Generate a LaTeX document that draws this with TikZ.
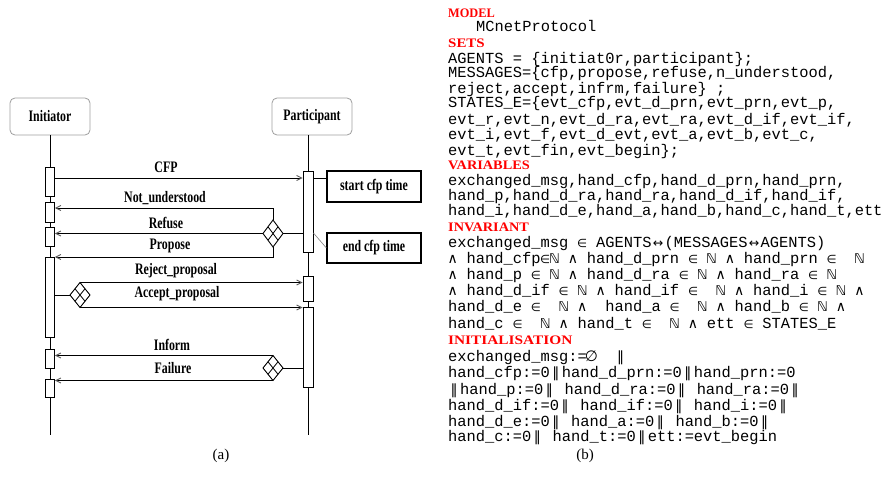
\documentclass[tikz,border=0pt]{standalone}
\usepackage{fontspec}
\setmainfont{Liberation Serif}
\newfontfamily\diagfont[FakeStretch=0.74]{Liberation Serif}
\newfontfamily\monofont{Liberation Mono}
\newfontfamily\symfont{DejaVu Sans}
\usetikzlibrary{arrows.meta,shapes.geometric,calc}

\newcommand\cellbox[2]{\makebox[9.24pt]{\symfont\fontsize{#1}{#1}\selectfont #2}}
\newcommand\symEl{\cellbox{11.5}{∈}}
\newcommand\symNat{\cellbox{13.5}{ℕ}}
\newcommand\symAnd{\cellbox{14}{∧}}
\newcommand\symLr{\makebox[13pt]{\symfont\fontsize{12.5}{12.5}\selectfont ↔}}
\newcommand\symEmpty{\cellbox{15}{∅}}
\newcommand\symPar{\makebox[12pt]{\symfont\fontsize{14}{14}\selectfont ‖}}
\newcommand\hd[2]{\scalebox{#1}[1]{#2}}

\tikzset{
  lifebox/.style={draw=gray!75, rounded corners=5pt, line width=0.8pt, fill=white,
    minimum width=80pt, minimum height=37pt, inner sep=0pt,
    font=\diagfont\bfseries\fontsize{16}{16}\selectfont},
  act/.style={draw, fill=white, line width=0.9pt, minimum width=9pt, inner sep=0pt},
  notebox/.style={draw, line width=1.2pt, minimum width=94pt, inner sep=0pt,
    font=\diagfont\bfseries\fontsize{16}{16}\selectfont},
  msg/.style={line width=0.9pt, -{Straight Barb[length=5pt,width=5pt,color=gray!70!black]}},
  plain/.style={line width=0.9pt},
  lifeline/.style={line width=0.9pt},
  lbl/.style={inner sep=0pt, font=\diagfont\bfseries\fontsize{16}{16}\selectfont},
  choice/.style={diamond, draw, line width=0.9pt, fill=white, minimum width=20pt,
    minimum height=25pt, inner sep=0pt, outer sep=0pt},
  txt/.style={anchor=base west, inner sep=0pt, font=\monofont\fontsize{15.4}{15.4}\selectfont},
  hdr/.style={anchor=base west, inner sep=0pt, text=red,
    font=\fontsize{13}{13}\selectfont\bfseries},
  capt/.style={inner sep=0pt, font=\fontsize{15}{15}\selectfont}
}

\begin{document}
\begin{tikzpicture}[x=1pt,y=-1pt]
\useasboundingbox (0,0) rectangle (887,495);
\clip (0,0) rectangle (887,495);

% ---------- (a) sequence diagram ----------
\node[lifebox] (ini) at (50,116.5) {Initiator};
\node[lifebox] (par) at (312,116.5) {Participant};
\coordinate (endI) at (50,435);
\coordinate (endP) at (308,435);

\draw[lifeline] (ini.south) -- (endI);
\draw[lifeline] (par.south -| endP) -- (endP);

% activations initiator
\node[act, minimum height=29pt] (a1) at (50,181.5) {};
\node[act, minimum height=20pt] (a2) at (50,212) {};
\node[act, minimum height=19pt] (a3) at (50,236.5) {};
\node[act, minimum height=80pt] (a4) at (50,297) {};
\node[act, minimum height=19pt] (a5) at (50,358.5) {};
\node[act, minimum height=18pt] (a6) at (50,388) {};
% activations participant
\node[act, minimum width=10pt, minimum height=81pt] (p1) at (308,211.5) {};
\node[act, minimum width=10pt, minimum height=25pt] (p2) at (308,288.5) {};
\node[act, minimum width=10pt, minimum height=80pt] (p3) at (308,347) {};

% notes
\node[notebox, minimum height=31pt] (n1) at (374,186.5) {start cfp time};
\node[notebox, minimum height=30pt] (n2) at (374,248) {end cfp time};
\draw[plain] (p1.east |- 0,178) -- (n1.west |- 0,178);
\draw[gray, line width=0.6pt] (p1.east |- 0,233) -- (n2.west);

% choice diamonds
\node[choice, minimum height=27pt] (d1) at (273,233.5) {};
\node[choice] (d2) at (80,295) {};
\node[choice] (d3) at (273,368) {};
\foreach \d in {d1,d2,d3}{
  \draw[line width=0.8pt] ($(\d.north)!.5!(\d.west)$) -- ($(\d.south)!.5!(\d.east)$);
  \draw[line width=0.8pt] ($(\d.north)!.5!(\d.east)$) -- ($(\d.south)!.5!(\d.west)$);
}

% messages
\draw[msg] (a1.east |- 0,178) -- (p1.west |- 0,178);
\draw[msg] (d1.north) |- (a2.east |- 0,208);
\draw[msg] (d1.west) -- (a3.east |- d1.west);
\draw[msg] (d1.south) |- (a4.east |- 0,257);
\draw[plain] (d1.east) -- (p1.west |- d1.east);

\draw[plain] (a4.east |- d2.west) -- (d2.west);
\draw[msg] (d2.north) -- (p2.west |- d2.north);
\draw[msg] (d2.south) -- (p3.west |- d2.south);

\draw[plain] (p3.west |- d3.east) -- (d3.east);
\draw[msg] (d3.north) -- (a5.east |- d3.north);
\draw[msg] (d3.south) -- (a6.east |- d3.south);

% labels
\node[lbl] (lcfp) at (166,167) {CFP};
\node[lbl] (lnu) at (165,198) {Not\_understood};
\node[lbl] (lref) at (166,223) {Refuse};
\node[lbl] (lpro) at (170,246) {Propose};
\node[lbl] (lrej) at (176,271) {Reject\_proposal};
\node[lbl] (lacc) at (177,294) {Accept\_proposal};
\node[lbl] (linf) at (172,345) {Inform};
\node[lbl] (lfai) at (173,368) {Failure};

% ---------- (b) B model text ----------
\node[hdr] (h0) at (448,17.5) {\hd{0.95}{MODEL}};
\node[txt] (t1) at (476,31.5) {MCnetProtocol};
\node[hdr] (h2) at (448,47.5) {\hd{1.15}{SETS}};
\node[txt] (t3) at (448,63.5) {AGENTS = \{initiat0r,participant\};};
\node[txt] (t4) at (448,77.5) {MESSAGES=\{cfp,propose,refuse,n\_understood,};
\node[txt] (t5) at (448,93.5) {reject,accept,infrm,failure\} ;};
\node[txt] (t6) at (448,107.5) {STATES\_E=\{evt\_cfp,evt\_d\_prn,evt\_prn,evt\_p,};
\node[txt] (t7) at (448,124.5) {evt\_r,evt\_n,evt\_d\_ra,evt\_ra,evt\_d\_if,evt\_if,};
\node[txt] (t8) at (448,139.5) {evt\_i,evt\_f,evt\_d\_evt,evt\_a,evt\_b,evt\_c,};
\node[txt] (t9) at (448,155.5) {evt\_t,evt\_fin,evt\_begin\};};
\node[hdr] (h10) at (448,169.5) {\hd{1.1}{VARIABLES}};
\node[txt] (t11) at (448,185.5) {exchanged\_msg,hand\_cfp,hand\_d\_prn,hand\_prn,};
\node[txt] (t12) at (448,200.5) {hand\_p,hand\_d\_ra,hand\_ra,hand\_d\_if,hand\_if,};
\node[txt] (t13) at (448,215.5) {hand\_i,hand\_d\_e,hand\_a,hand\_b,hand\_c,hand\_t,ett};
\node[hdr] (h14) at (448,231.5) {\hd{1.1}{INVARIANT}};
\node[txt] (t15) at (448,247.5) {exchanged\_msg \symEl{} AGENTS\symLr(MESSAGES\symLr AGENTS)};
\node[txt] (t16) at (448,263.5) {\symAnd{} hand\_cfp\symEl\symNat{} \symAnd{} hand\_d\_prn \symEl{} \symNat{} \symAnd{} hand\_prn \symEl\ \ \symNat};
\node[txt] (t17) at (448,279.5) {\symAnd{} hand\_p \symEl{} \symNat{} \symAnd{} hand\_d\_ra \symEl{} \symNat{} \symAnd{} hand\_ra \symEl{} \symNat};
\node[txt] (t18) at (448,295.5) {\symAnd{} hand\_d\_if \symEl{} \symNat{} \symAnd{} hand\_if \symEl\ \ \symNat{} \symAnd{} hand\_i \symEl{} \symNat{} \symAnd};
\node[txt] (t19) at (448,311.5) {hand\_d\_e \symEl\ \ \symNat{} \symAnd\ \ hand\_a \symEl\ \ \symNat{} \symAnd{} hand\_b \symEl{} \symNat{} \symAnd};
\node[txt] (t20) at (448,328.5) {hand\_c \symEl\ \ \symNat{} \symAnd{} hand\_t \symEl\ \ \symNat{} \symAnd{} ett \symEl{} STATES\_E};
\node[hdr] (h21) at (448,344.5) {\hd{1.18}{INITIALISATION}};
\node[txt] (t22) at (448,361.5) {exchanged\_msg:=\symEmpty\ \ \symPar};
\node[txt] (t23) at (448,377.5) {hand\_cfp:=0\symPar hand\_d\_prn:=0\symPar hand\_prn:=0};
\node[txt] (t24) at (448,394.5) {\symPar hand\_p:=0\symPar\ hand\_d\_ra:=0\symPar\ hand\_ra:=0\symPar};
\node[txt] (t25) at (448,410.5) {hand\_d\_if:=0\symPar\ hand\_if:=0\symPar\ hand\_i:=0\symPar};
\node[txt] (t26) at (448,426.5) {hand\_d\_e:=0\symPar\ hand\_a:=0\symPar\ hand\_b:=0\symPar};
\node[txt] (t27) at (448,441.5) {hand\_c:=0\symPar\ hand\_t:=0\symPar ett:=evt\_begin};

% captions
\node[capt] (ca) at (221,456) {(a)};
\node[capt] (cb) at (585,456) {(b)};
\end{tikzpicture}
\end{document}
